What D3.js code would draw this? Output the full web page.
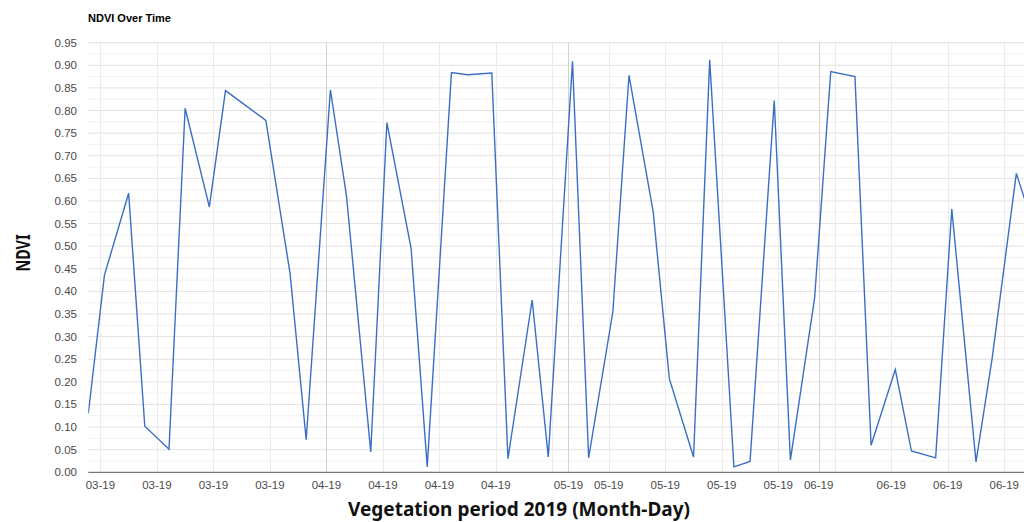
<!DOCTYPE html>
<html>
<head>
<meta charset="utf-8">
<script src="https://cdn.jsdelivr.net/npm/d3@7"></script>
<style>
  html, body { margin: 0; padding: 0; background: #fff; overflow: hidden; }
  svg { display: block; }
</style>
</head>
<body>
<svg id="chart" width="1024" height="522"></svg>
<script>
// ---- data ----
const chartTitle = "NDVI Over Time";
const yAxisTitle = "NDVI";
const xAxisTitle = "Vegetation period 2019 (Month-Day)";
// acquisition dates (month, day) in 2019, observed around midday
const obsDates = [
  "03-02","03-04","03-07","03-09","03-12","03-14","03-17","03-19","03-24","03-27","03-29",
  "04-01","04-03","04-06","04-08","04-11","04-13","04-16","04-18","04-21","04-23","04-26","04-28",
  "05-01","05-03","05-06","05-08","05-11","05-13","05-16","05-18","05-21","05-23","05-26","05-28","05-31",
  "06-02","06-05","06-07","06-10","06-12","06-15","06-17","06-20","06-22","06-25","06-27"
];
const ndviValues = [
  0.130,0.436,0.617,0.102,0.051,0.805,0.587,0.844,0.778,0.440,0.072,
  0.846,0.610,0.045,0.773,0.495,0.012,0.884,0.879,0.883,0.030,0.381,0.034,
  0.909,0.032,0.355,0.878,0.576,0.207,0.034,0.912,0.012,0.024,0.822,0.027,0.385,
  0.886,0.875,0.060,0.227,0.047,0.032,0.582,0.023,0.252,0.661,0.550
];
const yTicks = [0,0.05,0.10,0.15,0.20,0.25,0.30,0.35,0.40,0.45,0.50,0.55,0.60,0.65,0.70,0.75,0.80,0.85,0.90,0.95];
const yMinorTicks = [0.025,0.075,0.125,0.175,0.225,0.275,0.325,0.375,0.425,0.475,0.525,0.575,0.625,0.675,0.725,0.775,0.825,0.875,0.925];

// ---- build ----
const parseObs = s => { const [m, d] = s.split("-").map(Number); return new Date(2019, m - 1, d, 12); };
const data = obsDates.map((s, i) => ({ date: parseObs(s), v: ndviValues[i] }));

const svg = d3.select("#chart");
const plotLeft = 88.3, plotTop = 42.7, plotBottom = 472.3;
const pxPerDay = 8.07;
const dStart = data[0].date, dEnd = data[data.length - 1].date;
const nDays = (dEnd - dStart) / 864e5;

const x = d3.scaleTime().domain([dStart, dEnd]).range([plotLeft, plotLeft + nDays * pxPerDay]);
const y = d3.scaleLinear().domain([0, 0.95]).range([plotBottom, plotTop]);
const plotRight = x.range()[1];

// clip
svg.append("defs").append("clipPath").attr("id", "plotclip")
  .append("rect").attr("x", plotLeft).attr("y", plotTop - 4).attr("width", plotRight - plotLeft + 20).attr("height", plotBottom - plotTop + 8);

// horizontal gridlines
svg.append("g").selectAll("line").data(yMinorTicks).join("line")
  .attr("x1", plotLeft).attr("x2", 1024).attr("y1", d => y(d)).attr("y2", d => y(d))
  .attr("stroke", "#f1f1f1").attr("stroke-width", 1);
svg.append("g").selectAll("line").data(yTicks.filter(d => d > 0)).join("line")
  .attr("x1", plotLeft).attr("x2", 1024).attr("y1", d => y(d)).attr("y2", d => y(d))
  .attr("stroke", "#e2e2e2").attr("stroke-width", 1);

// vertical gridlines: weekly (Mondays) and month starts
const xDomainExt = [d3.timeDay.floor(dStart), d3.timeDay.offset(dEnd, 3)];
const mondays = d3.timeMonday.range(xDomainExt[0], xDomainExt[1]);
const months = d3.timeMonth.range(d3.timeDay.offset(xDomainExt[0], 1), xDomainExt[1]);
const monthKeys = new Set(months.map(d => +d));
svg.append("g").selectAll("line").data(mondays.filter(d => !monthKeys.has(+d))).join("line")
  .attr("x1", d => Math.round(x(d)) + 0.5).attr("x2", d => Math.round(x(d)) + 0.5)
  .attr("y1", plotTop).attr("y2", plotBottom)
  .attr("stroke", "#ebebeb").attr("stroke-width", 1);
svg.append("g").selectAll("line").data(months).join("line")
  .attr("x1", d => Math.round(x(d)) + 0.5).attr("x2", d => Math.round(x(d)) + 0.5)
  .attr("y1", plotTop).attr("y2", plotBottom)
  .attr("stroke", "#d2d2d2").attr("stroke-width", 1);

// baseline
svg.append("line").attr("x1", plotLeft).attr("x2", 1024).attr("y1", y(0)).attr("y2", y(0))
  .attr("stroke", "#777").attr("stroke-width", 1.3);

// y-axis labels
const fmtY = d3.format(".2f");
svg.append("g").selectAll("text").data(yTicks).join("text")
  .attr("x", 77).attr("y", d => y(d)).attr("dy", "0.35em")
  .attr("text-anchor", "end")
  .attr("font-family", "'Liberation Sans', Arial, sans-serif").attr("font-size", 11.5)
  .attr("fill", "#4a4a4a").text(d => fmtY(d));

// x-axis labels: months take priority, mondays skipped if too close
const fmtX = d3.timeFormat("%m-%y");
const tickDates = Array.from(new Set([...mondays, ...months].map(d => +d))).sort((a, b) => a - b).map(d => new Date(d));
const labels = tickDates.filter(d => {
  if (monthKeys.has(+d)) return true;
  return !months.some(m => Math.abs(x(m) - x(d)) < 40);
}).filter(d => x(d) > plotLeft - 2 && x(d) < 1040);
svg.append("g").selectAll("text").data(labels).join("text")
  .attr("x", d => x(d)).attr("y", 488.5)
  .attr("text-anchor", "middle")
  .attr("font-family", "'Liberation Sans', Arial, sans-serif").attr("font-size", 11.5)
  .attr("fill", "#4a4a4a").text(d => fmtX(d));

// line
const line = d3.line().x(d => x(d.date)).y(d => y(d.v));
svg.append("path").datum(data)
  .attr("clip-path", "url(#plotclip)")
  .attr("d", line)
  .attr("fill", "none").attr("stroke", "#3a6fc4").attr("stroke-width", 1.4)
  .attr("stroke-linejoin", "miter");

// titles
svg.append("text").attr("x", 88).attr("y", 22)
  .attr("font-family", "'Liberation Sans', Arial, sans-serif").attr("font-weight", "bold")
  .attr("font-size", 11).attr("fill", "#000").text(chartTitle);

svg.append("text").attr("transform", "translate(29.5,253) rotate(-90)")
  .attr("text-anchor", "middle")
  .attr("font-family", "'Noto Sans', sans-serif").attr("font-weight", "bold")
  .attr("font-size", 20).attr("fill", "#111")
  .attr("textLength", 37).attr("lengthAdjust", "spacingAndGlyphs")
  .text(yAxisTitle);

svg.append("text").attr("x", 519).attr("y", 516)
  .attr("text-anchor", "middle")
  .attr("font-family", "'Noto Sans', sans-serif").attr("font-weight", "bold")
  .attr("font-size", 19).attr("fill", "#111").text(xAxisTitle);
</script>
</body>
</html>
